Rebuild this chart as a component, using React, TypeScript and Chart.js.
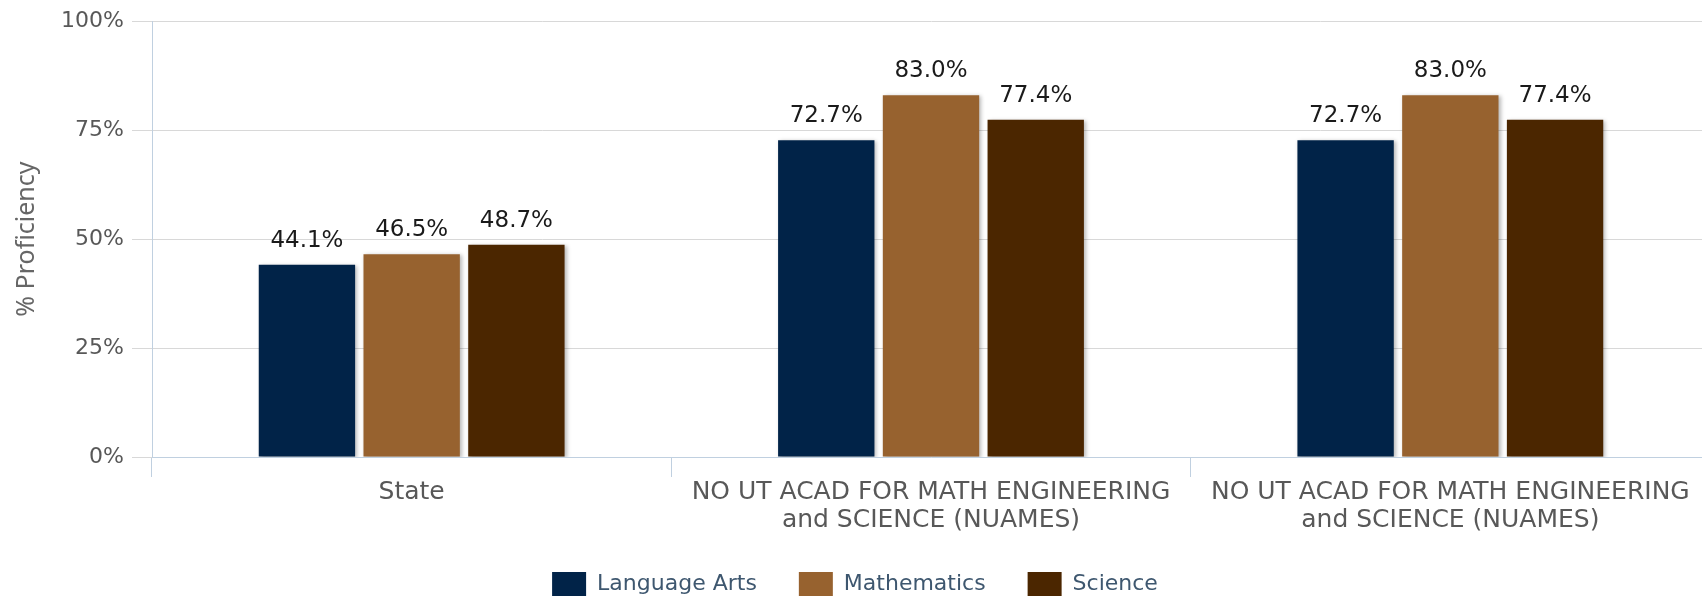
import React, { useEffect, useRef } from "react";
import { Chart, registerables } from "chart.js";

Chart.register(...registerables);

const categories: (string | string[])[] = [
  "State",
  ["NO UT ACAD FOR MATH ENGINEERING", "and SCIENCE (NUAMES)"],
  ["NO UT ACAD FOR MATH ENGINEERING", "and SCIENCE (NUAMES)"],
];
const languageArts = [44.1, 72.7, 72.7];
const mathematics = [46.5, 83.0, 83.0];
const science = [48.7, 77.4, 77.4];
const yTicks = [0, 25, 50, 75, 100];

const CANVAS_W = 1724;
const CANVAS_H = 601;
const LEGEND_PAD = 42;

const shadowAndLabels = {
  id: "shadowAndLabels",
  afterLayout(chart: any) {
    const x = chart.scales.x;
    if (x) x.bottom = CANVAS_H;
  },
  beforeDatasetsDraw(chart: any) {
    const ctx = chart.ctx;
    ctx.save();
    ctx.shadowColor = "rgba(0,0,0,0.28)";
    ctx.shadowBlur = 4;
    ctx.shadowOffsetX = 2;
    ctx.shadowOffsetY = 1;
  },
  afterDatasetsDraw(chart: any) {
    const ctx = chart.ctx;
    ctx.restore();
    ctx.save();
    ctx.font = "23px 'DejaVu Sans'";
    ctx.fillStyle = "#1a1a1a";
    ctx.textAlign = "center";
    ctx.textBaseline = "alphabetic";
    chart.data.datasets.forEach((ds: any, i: number) => {
      const meta = chart.getDatasetMeta(i);
      meta.data.forEach((bar: any, j: number) => {
        const v = ds.data[j] as number;
        ctx.fillText(v.toFixed(1) + "%", bar.x, bar.y - 18);
      });
    });
    ctx.restore();
  },
};

export default function App() {
  const ref = useRef<HTMLCanvasElement | null>(null);
  useEffect(() => {
    if (!ref.current) return;
    const chart = new Chart(ref.current, {
      type: "bar",
      data: {
        labels: categories,
        datasets: [
          { label: "Language Arts", data: languageArts, backgroundColor: "#012348" },
          { label: "Mathematics", data: mathematics, backgroundColor: "#97622f" },
          { label: "Science", data: science, backgroundColor: "#4b2600" },
        ],
      },
      options: {
        animation: false,
        responsive: false,
        devicePixelRatio: 1,
        layout: { padding: { top: 18, right: 14, left: 0, bottom: -5 } },
        datasets: {
          bar: { categoryPercentage: 0.605, barPercentage: 0.92 },
        },
        scales: {
          x: {
            grid: {
              drawOnChartArea: false,
              drawTicks: true,
              tickLength: 20,
              color: "#c0d0e0",
              offset: true,
            },
            border: { display: true, color: "#c0d0e0" },
            ticks: {
              color: "#585858",
              font: { family: "'DejaVu Sans'", size: 25, lineHeight: 1.12 },
              padding: 1,
              maxRotation: 0,
              autoSkip: false,
            },
            afterFit: (s: any) => {
              s.height = 572 - LEGEND_PAD - 457;
            },
          },
          y: {
            min: 0,
            max: 100,
            afterBuildTicks: (s: any) => {
              s.ticks = yTicks.map((v) => ({ value: v }));
            },
            grid: { color: "#d8d8d8", tickLength: 20, drawTicks: true },
            border: { display: true, color: "#c0d0e0" },
            ticks: {
              color: "#585858",
              font: { family: "'DejaVu Sans'", size: 22 },
              padding: 8,
              callback: (v: any) => v + "%",
            },
            title: {
              display: true,
              text: "% Proficiency",
              color: "#666666",
              font: { family: "'Noto Sans'", size: 25, lineHeight: 1.2 },
              padding: { top: 12, bottom: 0 },
            },
            afterFit: (s: any) => {
              s.width = 152;
            },
          },
        },
        plugins: {
          legend: {
            position: "bottom",
            labels: {
              boxWidth: 34,
              boxHeight: 24,
              padding: LEGEND_PAD,
              color: "#3e576f",
              font: { family: "'DejaVu Sans'", size: 22 },
            },
          },
          tooltip: { enabled: false },
        },
      },
      plugins: [shadowAndLabels],
    });
    return () => chart.destroy();
  }, []);
  return (
    <div
      style={{
        position: "fixed",
        left: 0,
        top: 0,
        width: 1702,
        height: 601,
        overflow: "hidden",
        background: "#ffffff",
      }}
    >
      <canvas
        ref={ref}
        width={CANVAS_W}
        height={CANVAS_H}
        style={{ width: CANVAS_W, height: CANVAS_H, display: "block" }}
      />
    </div>
  );
}
